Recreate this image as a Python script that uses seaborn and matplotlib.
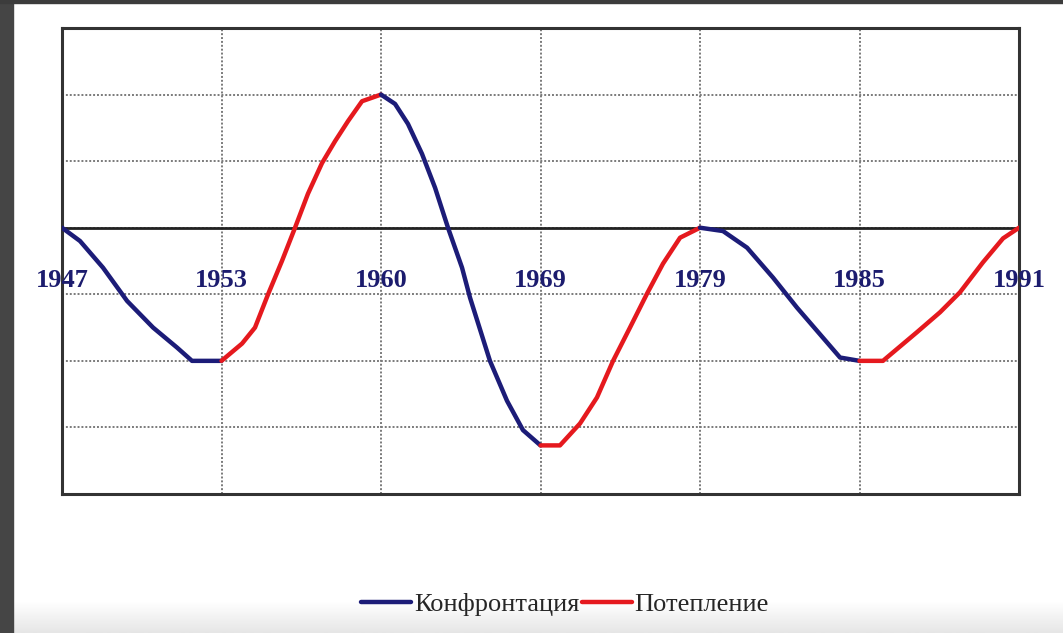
import numpy as np
import pandas as pd
import matplotlib.pyplot as plt
import seaborn as sns
from matplotlib.lines import Line2D
from matplotlib.patches import Rectangle

# Годы (категориальная ось, равные интервалы)
years = ["1947", "1953", "1960", "1969", "1979", "1985", "1991"]

# Точки кривой (x в долях категорий)
x_1947_1953 = [0.0, 0.113, 0.257, 0.408, 0.571, 0.721, 0.815, 1.0]
y_1947_1953 = [0.0, -0.2, -0.6, -1.1, -1.5, -1.8, -2.0, -2.0]

x_1953_1960 = [1.0, 1.129, 1.21, 1.292, 1.379, 1.461, 1.542, 1.63, 1.712, 1.793, 1.881, 2.0]
y_1953_1960 = [-2.0, -1.74, -1.5, -1.0, -0.5, 0.0, 0.51, 0.97, 1.3, 1.6, 1.9, 2.0]

x_1960_1969 = [2.0, 2.088, 2.169, 2.257, 2.339, 2.42, 2.508, 2.558, 2.683, 2.79, 2.89, 3.0]
y_1960_1969 = [2.0, 1.86, 1.56, 1.11, 0.6, 0.0, -0.6, -1.05, -2.0, -2.6, -3.04, -3.27]

x_1969_1979 = [3.0, 3.122, 3.248, 3.354, 3.455, 3.561, 3.668, 3.768, 3.875, 4.0]
y_1969_1979 = [-3.27, -3.27, -2.94, -2.55, -2.0, -1.5, -0.99, -0.54, -0.15, 0.0]

x_1979_1985 = [4.0, 4.144, 4.295, 4.458, 4.608, 4.752, 4.878, 5.0]
y_1979_1985 = [0.0, -0.05, -0.3, -0.75, -1.2, -1.6, -1.95, -2.0]

x_1985_1991 = [5.0, 5.147, 5.36, 5.505, 5.63, 5.774, 5.9, 6.0]
y_1985_1991 = [-2.0, -2.0, -1.57, -1.27, -0.97, -0.52, -0.16, 0.0]

segments = [
    (x_1947_1953, y_1947_1953, "Конфронтация"),
    (x_1953_1960, y_1953_1960, "Потепление"),
    (x_1960_1969, y_1960_1969, "Конфронтация"),
    (x_1969_1979, y_1969_1979, "Потепление"),
    (x_1979_1985, y_1979_1985, "Конфронтация"),
    (x_1985_1991, y_1985_1991, "Потепление"),
]

colors = {"Конфронтация": "#1c1c78", "Потепление": "#e5191e"}

sns.set_style("white")
plt.rcParams['font.family'] = ['Liberation Serif', 'DejaVu Serif']

fig = plt.figure(figsize=(10.63, 6.33), dpi=100)
fig.patch.set_facecolor("white")

# тёмная рамка скриншота и серый низ
fig.patches.append(Rectangle((0, 0), 13 / 1063, 1, transform=fig.transFigure,
                             color="#454545", zorder=0))
fig.patches.append(Rectangle((0, 1 - 3 / 633), 1, 3 / 633, transform=fig.transFigure,
                             color="#3c3c3c", zorder=0))
bg = fig.add_axes([13 / 1063, 0, 1 - 13 / 1063, 32 / 633], zorder=-1)
grad = np.linspace(0.9, 1.0, 50).reshape(-1, 1)
bg.imshow(grad, aspect="auto", cmap="gray", vmin=0, vmax=1, origin="lower")
bg.axis("off")

ax = fig.add_axes([62 / 1063, 1 - 494 / 633, (1019 - 62) / 1063, (494 - 28) / 633])
ax.set_facecolor("white")

for xs, ys, phase in segments:
    df = pd.DataFrame({"x": xs, "y": ys})
    sns.lineplot(data=df, x="x", y="y", color=colors[phase], lw=3.2,
                 sort=False, ax=ax, zorder=5)

ax.set_xlim(0, 6)
ax.set_ylim(-4, 3)
ax.set_xticks(range(7))
ax.set_yticks(range(-4, 4))
ax.grid(True, color="#7a7a7a", linestyle=(0, (1, 1)), lw=1.4)
ax.tick_params(length=0, labelleft=False, labelbottom=False)
ax.set_xlabel("")
ax.set_ylabel("")
ax.axhline(0, color="#222222", lw=2, zorder=3)
for s in ax.spines.values():
    s.set_color("#333333")
    s.set_linewidth(2.2)

for i, yr in enumerate(years):
    ax.text(i, -0.8, yr, ha="center", va="center", fontsize=19,
            fontweight="bold", color="#1c1c6e", zorder=6)

handles = [Line2D([], [], color=colors["Конфронтация"], lw=3.2),
           Line2D([], [], color=colors["Потепление"], lw=3.2)]
fig.legend(handles, ["Конфронтация", "Потепление"], loc="center",
           bbox_to_anchor=(565 / 1063, 1 - 604 / 633), ncol=2, frameon=False,
           fontsize=19, handlelength=1.9, handletextpad=0.1, columnspacing=0.1)

plt.savefig("out.png", dpi=100)
